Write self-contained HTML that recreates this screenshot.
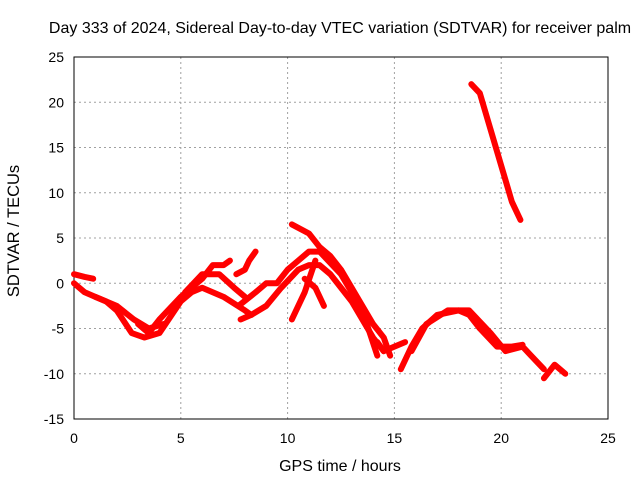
<!DOCTYPE html>
<html><head><meta charset="utf-8"><style>
body{margin:0;background:#fff}
svg{display:block;font-family:"Liberation Sans",sans-serif;font-size:14px}
</style></head><body>
<svg id="c" width="640" height="480"></svg>
<script>
const xTicks=[0,5,10,15,20,25];
const yTicks=[-15,-10,-5,0,5,10,15,20,25];
const trackA=[[0,1],[0.5,0.7],[0.9,0.5]];
const trackB=[[0,0],[0.5,-1],[1,-1.5],[1.5,-2],[2,-3],[2.7,-5.5],[3.3,-6],[4,-5.5],[5,-2],[5.5,-1],[6,-0.5],[7,-1.5],[8,-3],[8.3,-3.5]];
const trackC=[[1,-1.5],[2,-2.5],[2.8,-4],[3.5,-5],[4.2,-4.5]];
const trackD=[[3,-4.5],[3.5,-5.5],[4,-4],[5,-1.5],[6,0.5],[6.5,2],[7,2],[7.3,2.5]];
const trackE=[[5.2,-1],[6,1],[6.8,1],[7.5,-0.5],[8,-1.5]];
const trackF=[[7.6,1],[8,1.5],[8.2,2.5],[8.5,3.5]];
const trackG=[[7.8,-4],[8.3,-3.5],[9,-2.5],[9.7,-0.5],[10.5,1.5],[11,2],[11.5,2],[12,1],[12.5,-0.5],[13,-2],[13.5,-4],[14,-6],[14.5,-7.5]];
const trackH=[[7.7,-2.5],[8.5,-1],[9,0],[9.5,0],[10,1.5],[10.5,2.5],[11,3.5],[11.5,3.5],[12.5,1],[13.5,-3],[14.2,-8]];
const trackI=[[10.2,6.5],[11,5.5],[11.5,4],[12,3],[12.5,1.5],[13,-0.5],[13.5,-2.5],[14,-4.5],[14.5,-6],[14.8,-8]];
const trackJ=[[10.2,-4],[10.8,-1],[11.3,2.5]];
const trackJ2=[[10.8,0.5],[11.3,-0.5],[11.7,-2.5]];
const trackK=[[14.2,-6.5],[14.5,-7.5],[15,-7],[15.5,-6.5]];
const trackL=[[15.3,-9.5],[15.8,-7],[16.3,-5],[17,-3.5],[18,-3],[18.5,-3.5],[19,-5],[19.8,-7],[20.5,-7],[21,-6.8]];
const trackM=[[15.8,-7.5],[16.5,-4.5],[17.5,-3],[18.5,-3],[19.5,-5.5],[20.2,-7.5],[21,-7],[21.4,-8],[22,-9.5]];
const trackN=[[22,-10.5],[22.5,-9],[23,-10]];
const trackO=[[18.6,22],[19,21],[19.5,17],[20,13],[20.5,9],[20.9,7]];
const tracks=[trackA,trackB,trackC,trackD,trackE,trackF,trackG,trackH,trackI,trackJ,trackJ2,trackK,trackL,trackM,trackN,trackO];
const L=74,R=608,T=57,B=419;
const sx=v=>L+(v-0)/25*(R-L), sy=v=>B-(v+15)/40*(B-T);
const svg=document.getElementById('c');const NS='http://www.w3.org/2000/svg';
function mk(t,a,p){const e=document.createElementNS(NS,t);for(const k in a)e.setAttribute(k,a[k]);(p||svg).appendChild(e);return e;}
xTicks.forEach(v=>{
 const g=mk('line',{x1:sx(v),x2:sx(v),y1:T,y2:B,stroke:'#a0a0a0','stroke-dasharray':'2,3'});
 
 
 const t=mk('text',{x:sx(v),y:B+24,'text-anchor':'middle'});t.textContent=v;
 
 
});
yTicks.forEach(v=>{
 const g=mk('line',{x1:L,x2:R,y1:sy(v),y2:sy(v),stroke:'#a0a0a0','stroke-dasharray':'2,3'});
 
 
 const t=mk('text',{x:L-10,y:sy(v)+5,'text-anchor':'end'});t.textContent=v;
 
 
});
const fr=mk('rect',{x:L,y:T,width:R-L,height:B-T,fill:'none',stroke:'#000'});


tracks.forEach(tr=>{
 const p=mk('polyline',{points:tr.map(d=>sx(d[0])+','+sy(d[1])).join(' '),fill:'none',stroke:'#ff0000','stroke-width':6,'stroke-linejoin':'round','stroke-linecap':'round'});
 
 
});
const tt=mk('text',{x:340,y:33,'text-anchor':'middle','font-size':'16px'});tt.textContent='Day 333 of 2024, Sidereal Day-to-day VTEC variation (SDTVAR) for receiver palm';


const xt=mk('text',{x:340,y:471,'text-anchor':'middle','font-size':'16px'});xt.textContent='GPS time / hours';


const yt=mk('text',{x:19,y:231,'text-anchor':'middle','font-size':'16.5px',transform:'rotate(-90 19 231)'});yt.textContent='SDTVAR / TECUs';


</script>
</body></html>
